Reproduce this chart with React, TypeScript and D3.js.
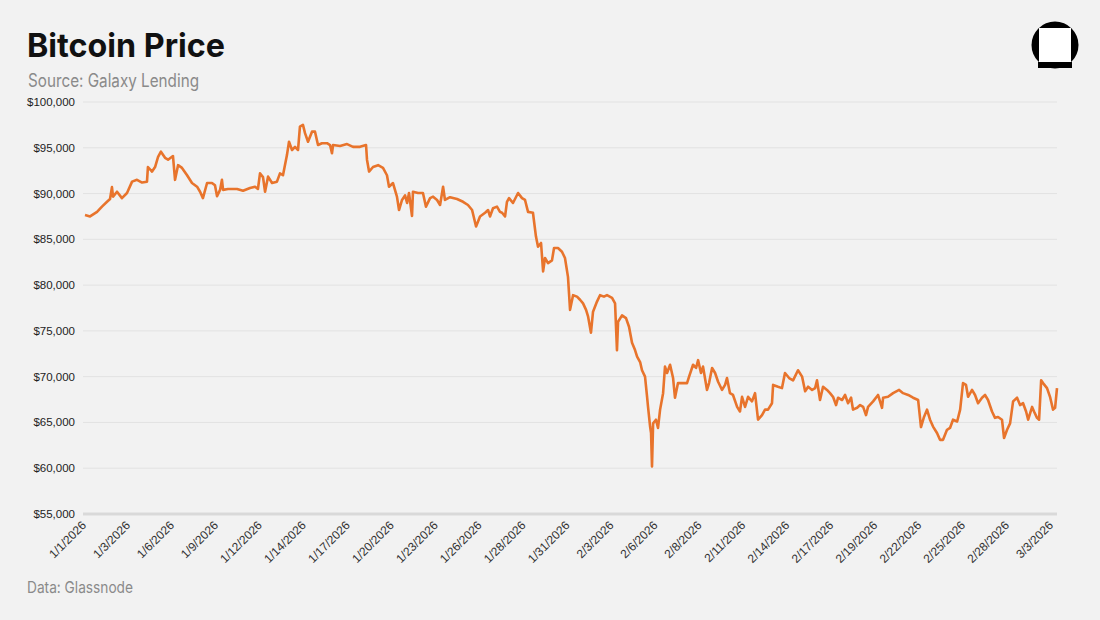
import { useEffect, useRef } from "react"
import * as d3 from "d3"

// day offset from 1/1/2026 for each sample
const days = [
  0.0, 0.32, 0.76, 1.07, 1.39, 1.58, 1.7, 1.77, 2.02, 2.33, 2.65, 2.97, 3.28, 3.6, 3.91, 3.97, 4.23, 4.42, 4.61, 4.79,
  5.05, 5.24, 5.55, 5.68, 5.87, 6.12, 6.44, 6.75, 7.07, 7.26, 7.44, 7.7, 8.01, 8.2, 8.33, 8.52, 8.64, 8.71, 9.02, 9.59,
  9.97, 10.41, 10.73, 10.91, 11.04, 11.23, 11.36, 11.55, 11.8, 12.11, 12.3, 12.49, 12.74, 12.87, 13.06, 13.25, 13.44, 13.56, 13.75, 13.88,
  14.07, 14.32, 14.51, 14.7, 14.95, 15.27, 15.46, 15.58, 15.65, 16.09, 16.53, 16.91, 17.35, 17.73, 17.79, 17.92, 18.17, 18.49, 18.8, 19.05,
  19.18, 19.43, 19.68, 19.81, 20.0, 20.19, 20.32, 20.44, 20.63, 20.69, 21.01, 21.32, 21.51, 21.77, 21.96, 22.21, 22.4, 22.59, 22.71, 23.03,
  23.47, 23.85, 24.16, 24.42, 24.67, 24.92, 25.24, 25.43, 25.55, 25.74, 25.99, 26.18, 26.31, 26.5, 26.62, 26.75, 27.0, 27.32, 27.57, 27.76,
  27.95, 28.26, 28.45, 28.58, 28.77, 28.9, 29.02, 29.21, 29.46, 29.59, 29.84, 30.09, 30.28, 30.47, 30.6, 30.79, 31.04, 31.23, 31.42, 31.61,
  31.74, 31.92, 32.05, 32.3, 32.49, 32.74, 32.93, 33.25, 33.44, 33.56, 33.63, 33.88, 34.13, 34.32, 34.51, 34.7, 34.83, 35.02, 35.14, 35.33,
  35.46, 35.52, 35.65, 35.71, 35.77, 35.84, 36.02, 36.15, 36.28, 36.47, 36.59, 36.72, 36.91, 37.1, 37.22, 37.41, 37.67, 37.98, 38.11, 38.36,
  38.55, 38.68, 38.86, 38.99, 39.24, 39.37, 39.56, 39.75, 39.94, 40.19, 40.38, 40.5, 40.69, 40.88, 41.14, 41.32, 41.45, 41.64, 41.83, 42.08,
  42.27, 42.46, 42.71, 42.9, 43.09, 43.34, 43.41, 43.72, 43.97, 44.16, 44.42, 44.67, 44.98, 45.24, 45.43, 45.62, 45.87, 46.06, 46.18, 46.37,
  46.56, 46.81, 47.0, 47.19, 47.38, 47.51, 47.76, 47.95, 48.14, 48.33, 48.45, 48.71, 48.9, 49.09, 49.27, 49.4, 49.72, 50.03, 50.28, 50.35,
  50.66, 50.98, 51.36, 51.61, 51.93, 52.24, 52.56, 52.74, 52.93, 53.12, 53.31, 53.5, 53.75, 53.94, 54.13, 54.38, 54.57, 54.76, 55.02, 55.21,
  55.39, 55.58, 55.71, 55.96, 56.15, 56.34, 56.59, 56.78, 56.97, 57.22, 57.41, 57.6, 57.85, 57.98, 58.17, 58.36, 58.55, 58.8, 58.99, 59.18,
  59.37, 59.5, 59.75, 59.87, 60.06, 60.19, 60.32, 60.44, 60.69, 60.88, 61.07, 61.2, 61.32,
]

// BTC price in USD
const prices = [
  87660, 87500, 88000, 88570, 89100, 89400, 90700, 89660, 90200, 89500, 90060, 91300, 91500, 91200, 91300, 92900, 92400, 92900, 94000, 94570,
  93900, 93700, 94100, 91500, 93100, 92800, 92000, 91150, 90750, 90200, 89500, 91150, 91150, 90900, 89700, 90400, 91500, 90400, 90500, 90500,
  90300, 90600, 90750, 90500, 92200, 91800, 90200, 91850, 91150, 91300, 92200, 92000, 94200, 95660, 94760, 95100, 94760, 97300, 97500, 96600,
  95660, 96760, 96760, 95300, 95500, 95500, 95300, 94400, 95300, 95200, 95400, 95100, 95100, 95300, 93700, 92400, 92900, 93100, 92800, 92000,
  90750, 91150, 89660, 88200, 89300, 89800, 88970, 90060, 87550, 90200, 90060, 90060, 88570, 89500, 89660, 89300, 88750, 90750, 89300, 89600,
  89400, 89100, 88750, 88200, 86400, 87500, 87900, 88200, 87500, 88400, 88570, 88000, 87900, 87500, 89100, 89500, 88970, 90060, 89500, 89300,
  88000, 87900, 85300, 84200, 84600, 81500, 82960, 82400, 82700, 84050, 84050, 83650, 82960, 80900, 77300, 78900, 78740, 78400, 78000, 77300,
  76550, 74800, 77100, 78200, 78900, 78740, 78900, 78600, 78000, 72900, 76000, 76700, 76400, 75450, 73700, 72900, 72200, 71600, 70700, 70000,
  67800, 66700, 64550, 63850, 60200, 64900, 65300, 64400, 66400, 68200, 71100, 70400, 71300, 69850, 67700, 69300, 69300, 69300, 70000, 71300,
  70950, 71800, 70400, 71100, 68550, 69300, 70950, 70400, 69450, 68550, 69100, 69850, 68200, 68000, 66700, 66200, 67800, 66700, 67800, 67300,
  68200, 65300, 65800, 66400, 66400, 67100, 69100, 68900, 68750, 70400, 69850, 69600, 70700, 70000, 68400, 68900, 68550, 68750, 69600, 67450,
  68900, 68550, 68200, 67800, 66900, 67700, 67450, 68000, 67100, 67700, 66400, 66600, 66900, 66700, 65800, 66700, 67300, 68000, 66600, 67700,
  67800, 68200, 68550, 68200, 68000, 67700, 67450, 64500, 65600, 66400, 65300, 64550, 63850, 63100, 63100, 64200, 64400, 65300, 65100, 66400,
  69300, 69100, 67800, 68550, 68000, 67100, 67700, 68000, 67450, 66200, 65500, 65600, 65300, 63300, 64200, 64900, 67300, 67700, 66900, 67100,
  66200, 65300, 66700, 66200, 65500, 65300, 69600, 69300, 68750, 67800, 66400, 66600, 68750,
]

const yTicks = [55000, 60000, 65000, 70000, 75000, 80000, 85000, 90000, 95000, 100000]

const xLabels = [
  "1/1/2026", "1/3/2026", "1/6/2026", "1/9/2026", "1/12/2026", "1/14/2026", "1/17/2026", "1/20/2026",
  "1/23/2026", "1/26/2026", "1/28/2026", "1/31/2026", "2/3/2026", "2/6/2026", "2/8/2026", "2/11/2026",
  "2/14/2026", "2/17/2026", "2/19/2026", "2/22/2026", "2/25/2026", "2/28/2026", "3/3/2026",
]

export default function App() {
  const svgRef = useRef<SVGSVGElement>(null)

  useEffect(() => {
    if (!svgRef.current) return
    const W = 1100
    const H = 620
    const left = 85
    const right = 1057
    const top = 102
    const bottom = 514

    const svg = d3.select(svgRef.current)
    svg.selectAll("*").remove()
    svg.attr("width", W).attr("height", H)

    svg.append("rect").attr("width", W).attr("height", H).attr("fill", "#f2f2f2")

    const x = d3.scaleLinear().domain([0, d3.max(days) as number]).range([left, right])
    const y = d3.scaleLinear().domain([55000, 100000]).range([bottom, top])

    // gridlines
    svg
      .append("g")
      .selectAll("line")
      .data(yTicks.filter((t) => t !== 55000))
      .enter()
      .append("line")
      .attr("x1", left - 2)
      .attr("x2", right)
      .attr("y1", (d) => y(d))
      .attr("y2", (d) => y(d))
      .attr("stroke", "#e2e2e2")
      .attr("stroke-width", 1)

    // baseline
    svg
      .append("line")
      .attr("x1", left - 2)
      .attr("x2", right)
      .attr("y1", y(55000))
      .attr("y2", y(55000))
      .attr("stroke", "#d9d9d9")
      .attr("stroke-width", 3)

    // y labels
    const fmt = d3.format(",")
    svg
      .append("g")
      .selectAll("text")
      .data(yTicks)
      .enter()
      .append("text")
      .attr("x", 75)
      .attr("y", (d) => y(d))
      .attr("dy", "0.35em")
      .attr("text-anchor", "end")
      .style("font-family", "'Liberation Sans', Arial, sans-serif")
      .style("font-size", "11.5px")
      .attr("fill", "#222")
      .text((d) => "$" + fmt(d))

    // x labels, evenly spaced like a category axis
    const xl = d3.scalePoint<string>().domain(xLabels).range([left, 1052])
    svg
      .append("g")
      .selectAll("text")
      .data(xLabels)
      .enter()
      .append("text")
      .attr("transform", (d) => `translate(${(xl(d) as number) + 2},${bottom + 12}) rotate(-45)`)
      .attr("text-anchor", "end")
      .style("font-family", "'Liberation Sans', Arial, sans-serif")
      .style("font-size", "12px")
      .attr("fill", "#333")
      .text((d) => d)

    // price line
    const line = d3
      .line<number>()
      .x((_, i) => x(days[i]))
      .y((d) => y(d))
    svg
      .append("path")
      .datum(prices)
      .attr("d", line)
      .attr("fill", "none")
      .attr("stroke", "#e8742c")
      .attr("stroke-width", 2.6)
      .attr("stroke-linejoin", "round")

    // titles
    svg
      .append("text")
      .attr("x", 27)
      .attr("y", 57)
      .attr("textLength", 198)
      .attr("lengthAdjust", "spacingAndGlyphs")
      .style("font-family", "Inter, 'Noto Sans', sans-serif")
      .style("font-weight", 700)
      .style("font-size", "33px")
      .attr("fill", "#111")
      .text("Bitcoin Price")

    svg
      .append("text")
      .attr("x", 28)
      .attr("y", 87)
      .attr("textLength", 171)
      .attr("lengthAdjust", "spacingAndGlyphs")
      .style("font-family", "Inter, 'Noto Sans', sans-serif")
      .style("font-size", "18px")
      .attr("fill", "#8a8a8a")
      .text("Source: Galaxy Lending")

    svg
      .append("text")
      .attr("x", 27)
      .attr("y", 593)
      .attr("textLength", 106)
      .attr("lengthAdjust", "spacingAndGlyphs")
      .style("font-family", "Inter, 'Noto Sans', sans-serif")
      .style("font-size", "16px")
      .attr("fill", "#8a8a8a")
      .text("Data: Glassnode")

    // logo
    const logo = svg.append("g")
    logo.append("circle").attr("cx", 1055).attr("cy", 45).attr("r", 23.5).attr("fill", "#000")
    logo.append("rect").attr("x", 1039).attr("y", 28).attr("width", 32).attr("height", 34).attr("fill", "#fff")
    logo.append("rect").attr("x", 1038).attr("y", 62).attr("width", 34).attr("height", 6).attr("fill", "#000")
  }, [])

  return <svg ref={svgRef} style={{ position: "absolute", left: 0, top: 0, display: "block" }}></svg>
}
